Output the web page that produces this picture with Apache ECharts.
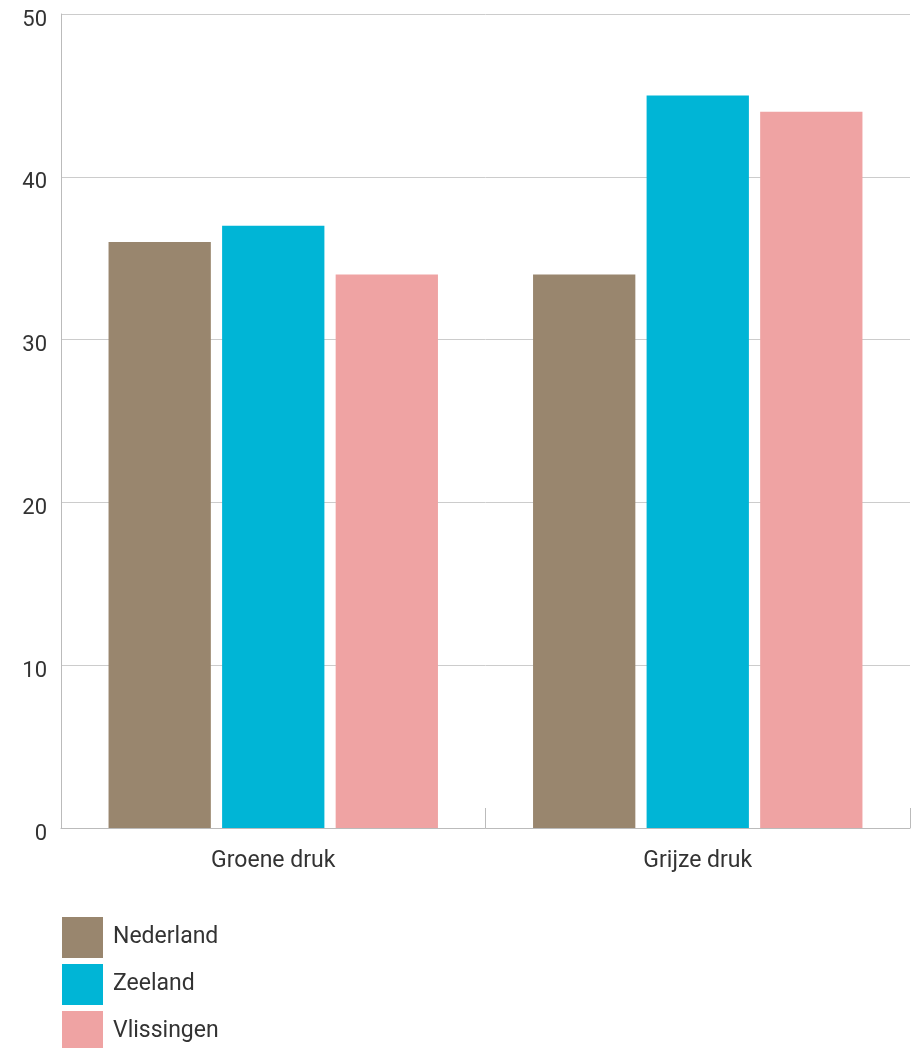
<!DOCTYPE html>
<html><head><meta charset="utf-8">
<script src="https://cdn.jsdelivr.net/npm/echarts@6/dist/echarts.min.js"></script>
<style>html,body{margin:0;padding:0;background:#fff}#c{width:911px;height:1048px}</style>
</head><body><div id="c"></div>
<script>
const categories = ['Groene druk', 'Grijze druk'];
const seriesNames = ['Nederland', 'Zeeland', 'Vlissingen'];
const nederland = [36, 34];
const zeeland = [37, 45];
const vlissingen = [34, 44];
const colors = ['#99866e', '#00b5d6', '#efa3a3'];
const values = [nederland, zeeland, vlissingen];

const chart = echarts.init(document.getElementById('c'));
const font = 'Roboto, "Open Sans", sans-serif';
chart.setOption({
  animation: false,
  textStyle: { fontFamily: font },
  grid: { left: 61, right: 1, top: 14, bottom: 220, containLabel: false },
  legend: {
    orient: 'vertical', left: 62, top: 917, height: 300, padding: 0,
    itemWidth: 41, itemHeight: 41, itemGap: 6,
    icon: 'rect',
    textStyle: { fontSize: 23, color: '#333', fontFamily: font, padding: [0, 0, 0, 5] },
    data: seriesNames
  },
  xAxis: {
    type: 'category', data: categories,
    axisLine: { lineStyle: { color: '#bbb', width: 1 } },
    axisTick: { show: true, inside: true, length: 20, lineStyle: { color: '#bbb' } },
    axisLabel: { fontSize: 23, color: '#333', margin: 22, fontFamily: font }
  },
  yAxis: {
    type: 'value', min: 0, max: 50, interval: 10,
    axisLine: { show: true, lineStyle: { color: '#bbb' } },
    axisTick: { show: false },
    splitLine: { lineStyle: { color: '#ccc' } },
    axisLabel: { fontSize: 22, color: '#333', margin: 14, verticalAlign: 'top', lineHeight: 12, fontFamily: font }
  },
  series: seriesNames.map((n, i) => ({
    name: n, type: 'bar', data: values[i],
    itemStyle: { color: colors[i] },
    barGap: '11%', barCategoryGap: '22.4%'
  }))
});
</script></body></html>
